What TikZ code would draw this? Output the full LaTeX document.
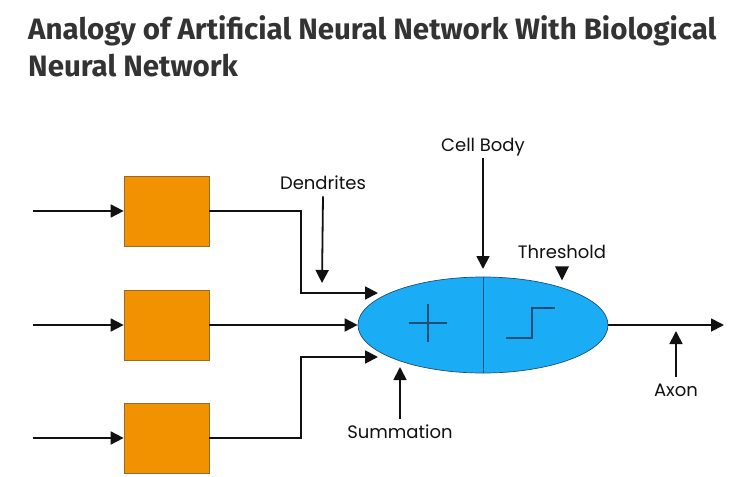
\documentclass[tikz,border=0pt]{standalone}
\usepackage{fontspec}
\setmainfont{Poppins}
\newfontfamily\titlefont{Fira Sans}
\usetikzlibrary{arrows.meta,positioning,calc,shapes.geometric}
\definecolor{ink}{HTML}{111111}
\definecolor{headcol}{HTML}{333333}
\definecolor{boxcol}{HTML}{F39200}
\definecolor{boxedge}{HTML}{9A6A2A}
\definecolor{cellcol}{HTML}{1AADF5}
\definecolor{celledge}{HTML}{1F4E79}

\begin{document}
\begin{tikzpicture}[x=1pt, y=-1pt,
  line cap=butt, line join=miter,
  unit/.style={draw=boxedge, fill=boxcol, line width=0.7pt,
               minimum width=85pt, minimum height=70pt, inner sep=0pt},
  lbl/.style={font=\fontsize{18}{20}\selectfont, text=ink, inner sep=0pt,
              anchor=base},
  fl/.style={-{Triangle[length=13pt,width=13pt]}, ink, line width=1.8pt},
  glyph/.style={celledge, line width=1.2pt}]

\useasboundingbox[fill=white] (0,0) rectangle (737,477);

% ================================================================ title
\node[anchor=north west, align=left, text=headcol, inner sep=0pt,
      font=\titlefont\bfseries\fontsize{29.5}{37}\selectfont] (title) at (28,15)
  {Analogy of Artificial Neural Network With Biological\\Neural Network};

% ================================================================ the inputs
\foreach \i/\y in {1/211, 2/325, 3/438} {
  \node[unit] (box\i) at (166.5,\y) {};
  \coordinate (in\i) at (33,\y);
  \draw[fl] (in\i) -- (box\i.west);
}

% ================================================================ the cell
\node[ellipse, draw=celledge, fill=cellcol, line width=0.7pt, inner sep=0pt,
      minimum width=250pt, minimum height=96pt] (cell) at (483,325) {};
\draw[glyph, line width=0.9pt] (cell.north) -- (cell.south);
% sum and step
\draw[glyph] (409,323) -- (447,323) (428,304) -- (428,342);
\draw[glyph] (506,338) -- (532,338) -- (532,308) -- (555,308);

% ================================================================ the wiring
\coordinate (bend) at (301,0);
\coordinate (tipA) at (378,293);
\coordinate (tipC) at (378,357);
\draw[fl] (box1.east) -| (bend |- tipA) -- (tipA);
\draw[fl] (box2.east) -- (cell.west);
\draw[fl] (box3.east) -| (bend |- tipC) -- (tipC);
\coordinate (out) at (724,325);
\draw[fl] (cell.east) -- (out);

% ================================================================ the labels
\node[lbl] (body) at (483,151) {Cell Body};
\node[lbl] (dend) at (323,189) {Dendrites};
\node[lbl] (thr) at (562,258) {Threshold};
\node[lbl] (summ) at (400,438) {Summation};
\node[lbl] (axon) at (676,396) {Axon};

\coordinate (bodytip) at (483,269);
\coordinate (dendtip) at (322,283);
\coordinate (summtip) at (400,367);
\coordinate (axontip) at (676,331);
\draw[fl] ([yshift=-2pt]body.south) -- (body.south |- bodytip);
\draw[fl] ([yshift=-7pt]dend.south) -- (dendtip);
\draw[fl] ([yshift=5pt]summ.north) -- (summtip);
\draw[fl] ([yshift=6pt]axon.north) -- (axontip);
\fill[ink] ($(thr.south)+(-7,8)$) -- ++(14,0) -- ++(-7,14) -- cycle;

\end{tikzpicture}
\end{document}
